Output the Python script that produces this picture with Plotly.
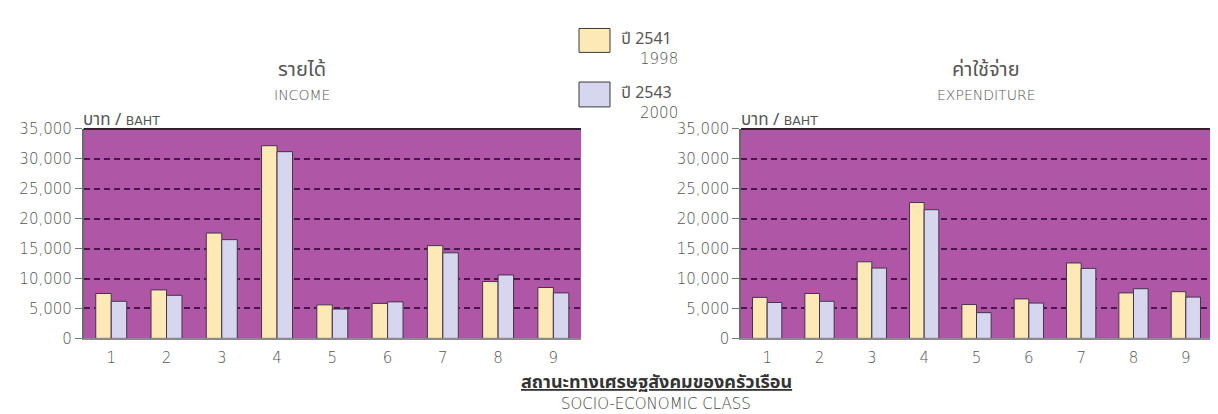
import plotly.graph_objects as go

# ---- data ----
classes = ["1", "2", "3", "4", "5", "6", "7", "8", "9"]
income_1998 = [7500, 8100, 17600, 32200, 5600, 5850, 15500, 9500, 8500]
income_2000 = [6200, 7200, 16500, 31200, 4900, 6100, 14300, 10600, 7600]
expend_1998 = [6850, 7500, 12800, 22700, 5650, 6600, 12600, 7600, 7800]
expend_2000 = [6000, 6200, 11750, 21500, 4300, 5900, 11700, 8300, 6900]
y_ticks = [0, 5000, 10000, 15000, 20000, 25000, 30000, 35000]
series_th = ["ปี 2541", "ปี 2543"]
series_en = ["1998", "2000"]
panel_th = ["รายได้", "ค่าใช้จ่าย"]
panel_en = ["INCOME", "EXPENDITURE"]
unit_th = "บาท"
unit_en = "BAHT"
x_title_th = "สถานะทางเศรษฐสังคมของครัวเรือน"
x_title_en = "SOCIO-ECONOMIC CLASS"

# ---- style ----
W, H = 1218, 414
C_Y = "#FCE9B6"
C_B = "#D6D6EE"
C_BG = "#B056A6"
C_GRID = "#4B1650"
C_EDGE = "#45344A"
C_TXT = "#555555"
FONT = "DejaVu Sans, Liberation Sans, sans-serif"
FONT_TH = "Noto Sans Thai, Loma, Tahoma, DejaVu Sans, sans-serif"


def px(x):
    return x / W


def py(y):
    return 1 - y / H


dom_l = [px(75.6), px(573)]
dom_r = [px(733), px(1204)]
dom_y = [py(336), py(117)]

fig = go.Figure()
panels = [(income_1998, income_2000, "x", "y"), (expend_1998, expend_2000, "x2", "y2")]
for a, b, xa, ya in panels:
    fig.add_trace(go.Bar(x=classes, y=a, name=series_en[0],
                         marker=dict(color=C_Y, line=dict(color=C_EDGE, width=1)),
                         xaxis=xa, yaxis=ya, showlegend=False))
    fig.add_trace(go.Bar(x=classes, y=b, name=series_en[1],
                         marker=dict(color=C_B, line=dict(color=C_EDGE, width=1)),
                         xaxis=xa, yaxis=ya, showlegend=False))

xcommon = dict(type="category", showgrid=False, zeroline=False, showline=True, linecolor="#8a8a8a", linewidth=1.5,
               ticks="outside", ticklen=5, tickcolor="rgba(0,0,0,0)",
               tickfont=dict(family=FONT, size=15, color=C_TXT, weight=300), range=[-0.5, 8.5])
ycommon = dict(range=[0, 35000], tickvals=y_ticks, tickformat=",d", showgrid=True, gridcolor=C_GRID, gridwidth=1.8,
               griddash="6px,4px", zeroline=False, showline=True, linecolor="#6a6a6a", linewidth=1.5,
               ticks="outside", ticklen=7, tickcolor="#777777",
               tickfont=dict(family=FONT, size=15, color=C_TXT, weight=300), domain=dom_y)

shapes = []
annotations = []
for dom, xr, yr in [(dom_l, "x domain", "y domain"), (dom_r, "x2 domain", "y2 domain")]:
    # top border line of the plot area
    shapes.append(dict(type="line", xref=xr, yref=yr, x0=0, x1=1, y0=1, y1=1,
                       line=dict(color="#2f2230", width=2)))
    # unit label
    annotations.append(dict(xref="paper", yref="paper", x=dom[0] - 0.002, y=py(108), xanchor="left",
                            yanchor="middle",
                            text=unit_th + " / <span style='font-size:12.5px;font-family:DejaVu Sans'>"
                                 + unit_en + "</span>",
                            showarrow=False, font=dict(family=FONT_TH, size=17, color=C_TXT)))

# panel titles
for cx, th, en in [(294, panel_th[0], panel_en[0]), (978, panel_th[1], panel_en[1])]:
    annotations.append(dict(xref="paper", yref="paper", x=px(cx), y=py(55), xanchor="center", yanchor="middle",
                            text=th, showarrow=False, font=dict(family=FONT_TH, size=20, color=C_TXT)))
    annotations.append(dict(xref="paper", yref="paper", x=px(cx), y=py(82), xanchor="center", yanchor="middle",
                            text=en, showarrow=False, font=dict(family=FONT, size=14, color=C_TXT, weight=300)))

# legend (boxes + labels)
for (y0, y1), th, en, col in [((12, 37), series_th[0], series_en[0], C_Y),
                              ((68, 94), series_th[1], series_en[1], C_B)]:
    shapes.append(dict(type="rect", xref="paper", yref="paper", x0=px(571), x1=px(602), y0=py(y1), y1=py(y0),
                       fillcolor=col, line=dict(color="#3a3a3a", width=1)))
    annotations.append(dict(xref="paper", yref="paper", x=px(611), y=py(y0 + 11), xanchor="left",
                            yanchor="middle", text=th, showarrow=False,
                            font=dict(family=FONT_TH, size=16, color=C_TXT)))
    annotations.append(dict(xref="paper", yref="paper", x=px(672), y=py(y0 + 32), xanchor="right",
                            yanchor="middle", text=en, showarrow=False,
                            font=dict(family=FONT, size=15, color=C_TXT, weight=300)))

# x axis titles
annotations.append(dict(xref="paper", yref="paper", x=px(648), y=py(382), xanchor="center", yanchor="middle",
                        text="<b><u>" + x_title_th + "</u></b>", showarrow=False,
                        font=dict(family=FONT_TH, size=18, color="#333333")))
annotations.append(dict(xref="paper", yref="paper", x=px(648), y=py(405), xanchor="center", yanchor="middle",
                        text=x_title_en, showarrow=False,
                        font=dict(family=FONT, size=15, color="#444444", weight=300)))

fig.update_layout(
    width=W, height=H, margin=dict(l=0, r=0, t=0, b=0),
    paper_bgcolor="white", plot_bgcolor=C_BG,
    barmode="group", bargap=0.44, bargroupgap=0.0,
    xaxis=dict(xcommon, domain=dom_l, anchor="y"),
    yaxis=dict(ycommon, anchor="x"),
    xaxis2=dict(xcommon, domain=dom_r, anchor="y2"),
    yaxis2=dict(ycommon, anchor="x2"),
    shapes=shapes, annotations=annotations,
)

fig.write_html("out.html")
